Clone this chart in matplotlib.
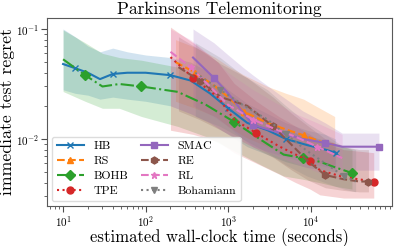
import numpy as np
import matplotlib
matplotlib.use("Agg")
import matplotlib.pyplot as plt

plt.rcParams["font.family"] = ["cmr10", "DejaVu Serif"]
plt.rcParams["mathtext.fontset"] = "cm"
plt.rcParams["axes.unicode_minus"] = False
plt.rcParams["axes.formatter.use_mathtext"] = True

# regret curves: time (s), mean, lower, upper
hb_x = [10, 14, 20, 28, 40, 60, 100, 200, 350, 600, 1000, 1700, 3000, 5000, 9000, 15000, 20000]
hb_m = [0.048, 0.044, 0.040, 0.035, 0.039, 0.040, 0.040, 0.038, 0.034, 0.026, 0.019, 0.014, 0.0120, 0.0100, 0.0088, 0.0080, 0.0075]
hb_lo = [0.028, 0.026, 0.025, 0.023, 0.024, 0.023, 0.022, 0.020, 0.017, 0.014, 0.011, 0.0085, 0.0072, 0.0062, 0.0055, 0.0052, 0.0050]
hb_hi = [0.100, 0.085, 0.070, 0.062, 0.067, 0.062, 0.058, 0.055, 0.050, 0.040, 0.028, 0.021, 0.017, 0.014, 0.012, 0.011, 0.010]

rs_x = [230, 400, 700, 1000, 1570, 3000, 5000, 8200, 12900, 19500]
rs_m = [0.050, 0.040, 0.030, 0.024, 0.0176, 0.0140, 0.0122, 0.0108, 0.0095, 0.0088]
rs_lo = [0.022, 0.019, 0.016, 0.013, 0.0105, 0.0085, 0.0072, 0.0065, 0.0060, 0.0058]
rs_hi = [0.080, 0.068, 0.055, 0.046, 0.038, 0.030, 0.026, 0.023, 0.019, 0.016]

bohb_x = [10, 18.5, 30, 48, 89, 245, 540, 1180, 2500, 4700, 8000, 12900, 20000, 31600]
bohb_m = [0.053, 0.038, 0.030, 0.0316, 0.030, 0.0268, 0.0204, 0.0143, 0.0098, 0.0072, 0.0067, 0.0062, 0.0055, 0.0049]
bohb_lo = [0.027, 0.022, 0.019, 0.019, 0.016, 0.013, 0.0105, 0.0078, 0.0058, 0.0046, 0.0043, 0.0040, 0.0037, 0.0035]
bohb_hi = [0.098, 0.075, 0.060, 0.055, 0.052, 0.045, 0.034, 0.024, 0.016, 0.012, 0.011, 0.010, 0.009, 0.008]

tpe_x = [200, 375, 750, 1180, 2200, 4100, 6600, 9800, 12900, 25000, 58000]
tpe_m = [0.0555, 0.036, 0.024, 0.0150, 0.0113, 0.0086, 0.0072, 0.0063, 0.0052, 0.0045, 0.0041]
tpe_lo = [0.012, 0.011, 0.0095, 0.0075, 0.0060, 0.0048, 0.0040, 0.0035, 0.0031, 0.0029, 0.0029]
tpe_hi = [0.104, 0.075, 0.050, 0.032, 0.022, 0.016, 0.013, 0.011, 0.0095, 0.0080, 0.0075]

smac_x = [375, 670, 1000, 1500, 2000, 4000, 8000, 15000, 24000, 40000, 67000]
smac_m = [0.055, 0.036, 0.026, 0.0176, 0.0134, 0.0115, 0.0100, 0.0092, 0.0085, 0.0085, 0.0085]
smac_lo = [0.020, 0.016, 0.013, 0.010, 0.0085, 0.0072, 0.0062, 0.0056, 0.0052, 0.0052, 0.0052]
smac_hi = [0.100, 0.075, 0.058, 0.045, 0.038, 0.026, 0.018, 0.014, 0.0113, 0.0113, 0.0113]

re_x = [250, 450, 820, 1700, 3500, 5900, 9400, 15000, 25000, 39000, 50000]
re_m = [0.045, 0.034, 0.024, 0.020, 0.0130, 0.0088, 0.0062, 0.0047, 0.0043, 0.0041, 0.0041]
re_lo = [0.018, 0.015, 0.012, 0.009, 0.0068, 0.0052, 0.0042, 0.0036, 0.0034, 0.0033, 0.0033]
re_hi = [0.085, 0.065, 0.048, 0.036, 0.024, 0.017, 0.013, 0.010, 0.0085, 0.0080, 0.0080]

rl_x = [200, 350, 600, 1000, 2000, 3500, 6500, 12000, 24000]
rl_m = [0.062, 0.045, 0.030, 0.0204, 0.0150, 0.0125, 0.0105, 0.0085, 0.0067]
rl_lo = [0.020, 0.017, 0.014, 0.011, 0.0085, 0.0072, 0.0060, 0.0050, 0.0042]
rl_hi = [0.100, 0.080, 0.058, 0.040, 0.028, 0.022, 0.017, 0.014, 0.0110]

boha_x = [400, 800, 1500, 3000, 5000, 9000, 15000, 25000, 35000]
boha_m = [0.040, 0.028, 0.0204, 0.0150, 0.0110, 0.0078, 0.0060, 0.0046, 0.0041]
boha_lo = [0.016, 0.013, 0.010, 0.0075, 0.0058, 0.0046, 0.0040, 0.0035, 0.0033]
boha_hi = [0.075, 0.055, 0.038, 0.028, 0.020, 0.014, 0.011, 0.0085, 0.0080]

series = [
    ("HB", hb_x, hb_m, hb_lo, hb_hi, "-", "x"),
    ("RS", rs_x, rs_m, rs_lo, rs_hi, "--", "^"),
    ("BOHB", bohb_x, bohb_m, bohb_lo, bohb_hi, "-.", "D"),
    ("TPE", tpe_x, tpe_m, tpe_lo, tpe_hi, ":", "o"),
    ("SMAC", smac_x, smac_m, smac_lo, smac_hi, "-", "s"),
    ("RE", re_x, re_m, re_lo, re_hi, "--", "h"),
    ("RL", rl_x, rl_m, rl_lo, rl_hi, "--", "*"),
    ("Bohamiann", boha_x, boha_m, boha_lo, boha_hi, ":", "v"),
]

fig, ax = plt.subplots(figsize=(3.99, 2.46), dpi=100)
fig.subplots_adjust(left=0.118, right=0.982, top=0.927, bottom=0.163)

colors = plt.rcParams["axes.prop_cycle"].by_key()["color"]
for i, (name, x, m, lo, hi, ls, mk) in enumerate(series):
    c = colors[i]
    ax.fill_between(x, lo, hi, color=c, alpha=0.2, lw=0)
    ax.plot(x, m, color=c, ls=ls, marker=mk, markersize=5, markevery=(1, 3),
            lw=1.5, label=name)

ax.set_xscale("log")
ax.set_yscale("log")
ax.set_xlim(6.4, 9.6e4)
ax.set_ylim(0.00246, 0.126)
ax.set_title("Parkinsons Telemonitoring", fontsize=12.5, pad=3)
ax.set_xlabel("estimated wall-clock time (seconds)", fontsize=12, labelpad=-0.5)
ax.set_ylabel("immediate test regret", fontsize=12.8)
ax.yaxis.set_label_coords(-0.092, 0.5)
ax.tick_params(which="both", direction="out", labelsize=8, color="0.3", pad=2)
ax.tick_params(which="major", length=4)
ax.tick_params(which="minor", length=2)
for s in ax.spines.values():
    s.set_color("0.35")

ax.legend(loc="lower left", ncol=2, fontsize=8.5, framealpha=0.9,
          edgecolor="0.85", handlelength=2.3, columnspacing=1.1,
          borderaxespad=0.4, labelspacing=0.4)

fig.savefig("out.png", dpi=100)
